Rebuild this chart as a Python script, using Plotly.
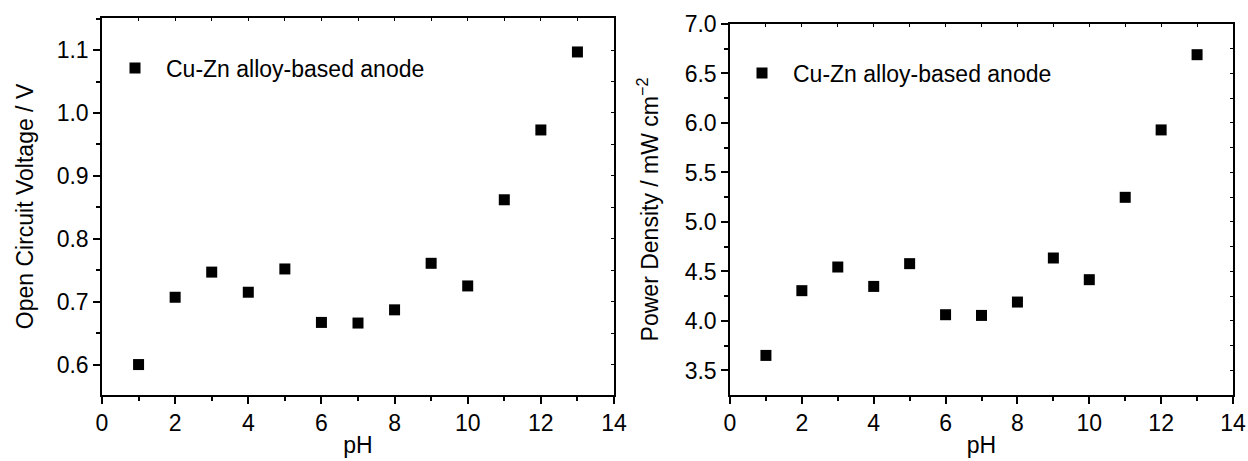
import plotly.graph_objects as go

ph = [1, 2, 3, 4, 5, 6, 7, 8, 9, 10, 11, 12, 13]
ocv = [0.600, 0.707, 0.747, 0.715, 0.752, 0.667, 0.666, 0.687, 0.761, 0.725, 0.862, 0.973, 1.097]
power = [3.652, 4.306, 4.545, 4.349, 4.579, 4.063, 4.056, 4.191, 4.636, 4.417, 5.249, 5.930, 6.690]
series_name = "Cu-Zn alloy-based anode"

FONT = "Arial, Liberation Sans, sans-serif"
FS = 23

W, H = 1248, 461
ML, MR, MT, MB = 102, 15, 18, 66
pw = W - ML - MR
ph_ = H - MT - MB

def px_x(px):
    return (px - ML) / pw

def px_y(py):
    return (H - MB - py) / ph_

fig = go.Figure()
marker = dict(symbol="square", size=11, color="black", line=dict(width=0))
fig.add_trace(go.Scatter(x=ph, y=ocv, mode="markers", marker=marker, name=series_name,
                         xaxis="x", yaxis="y", legend="legend"))
fig.add_trace(go.Scatter(x=ph, y=power, mode="markers", marker=marker, name=series_name,
                         xaxis="x2", yaxis="y2", legend="legend2"))
# invisible helpers for the inside-tick frame axes
fig.add_trace(go.Scatter(x=ph, y=ocv, mode="markers", marker=dict(opacity=0), showlegend=False,
                         hoverinfo="skip", xaxis="x3", yaxis="y3"))
fig.add_trace(go.Scatter(x=ph, y=power, mode="markers", marker=dict(opacity=0), showlegend=False,
                         hoverinfo="skip", xaxis="x4", yaxis="y4"))

xd1 = [0, px_x(614)]
xd2 = [px_x(730), 1]
yd1 = [0, 1]
yd2 = [0, px_y(24)]

common_ax = dict(showline=True, linecolor="black", linewidth=1.5, showgrid=False, zeroline=False,
                 ticks="outside", ticklen=7, tickwidth=1.5, tickcolor="black", automargin=False,
                 tickfont=dict(family=FONT, size=FS, color="black"))
frame_ax = dict(showline=True, linecolor="black", linewidth=1.5, showgrid=False, zeroline=False,
                ticks="inside", ticklen=3, tickwidth=1, tickcolor="black", showticklabels=False,
                automargin=False)

fig.update_layout(
    width=W, height=H, margin=dict(l=ML, r=MR, t=MT, b=MB, autoexpand=False),
    paper_bgcolor="white", plot_bgcolor="white",
    font=dict(family=FONT, size=FS, color="black"),
    xaxis=dict(domain=xd1, anchor="y", range=[0, 14], dtick=2, tick0=0,
               minor=dict(dtick=1, ticks="outside", ticklen=4, tickcolor="black", tickwidth=1.5),
               title=dict(text="pH", font=dict(family=FONT, size=FS), standoff=2), **common_ax),
    yaxis=dict(domain=yd1, anchor="x", range=[0.5516, 1.151], dtick=0.1, tick0=0.6, tickformat=".1f",
               minor=dict(dtick=0.05, ticks="outside", ticklen=4, tickcolor="black", tickwidth=1.5),
               title=dict(text="Open Circuit Voltage / V", font=dict(family=FONT, size=FS), standoff=17),
               **common_ax),
    xaxis2=dict(domain=xd2, anchor="y2", range=[0, 14], dtick=2, tick0=0,
                minor=dict(dtick=1, ticks="outside", ticklen=4, tickcolor="black", tickwidth=1.5),
                title=dict(text="pH", font=dict(family=FONT, size=FS), standoff=2), **common_ax),
    yaxis2=dict(domain=yd2, anchor="x2", range=[3.252, 7.0], dtick=0.5, tick0=3.5, tickformat=".1f",
                minor=dict(dtick=0.25, ticks="outside", ticklen=4, tickcolor="black", tickwidth=1.5),
                title=dict(text="Power Density / mW cm<sup>−2</sup>", font=dict(family=FONT, size=FS), standoff=20),
                **common_ax),
    xaxis3=dict(domain=xd1, anchor="y3", overlaying="x", side="top", range=[0, 14], dtick=1, **frame_ax),
    yaxis3=dict(domain=yd1, anchor="x3", overlaying="y", side="right", range=[0.5516, 1.151],
                dtick=0.05, tick0=0.6, **frame_ax),
    xaxis4=dict(domain=xd2, anchor="y4", overlaying="x2", side="top", range=[0, 14], dtick=1, **frame_ax),
    yaxis4=dict(domain=yd2, anchor="x4", overlaying="y2", side="right", range=[3.252, 7.0],
                dtick=0.25, tick0=3.5, **frame_ax),
    legend=dict(x=px_x(104), y=px_y(68), xanchor="left", yanchor="middle", itemwidth=52,
                bgcolor="rgba(0,0,0,0)", font=dict(family=FONT, size=FS, color="black")),
    legend2=dict(x=px_x(731), y=px_y(73), xanchor="left", yanchor="middle", itemwidth=52,
                 bgcolor="rgba(0,0,0,0)", font=dict(family=FONT, size=FS, color="black")),
)

fig.write_html("out.html")
